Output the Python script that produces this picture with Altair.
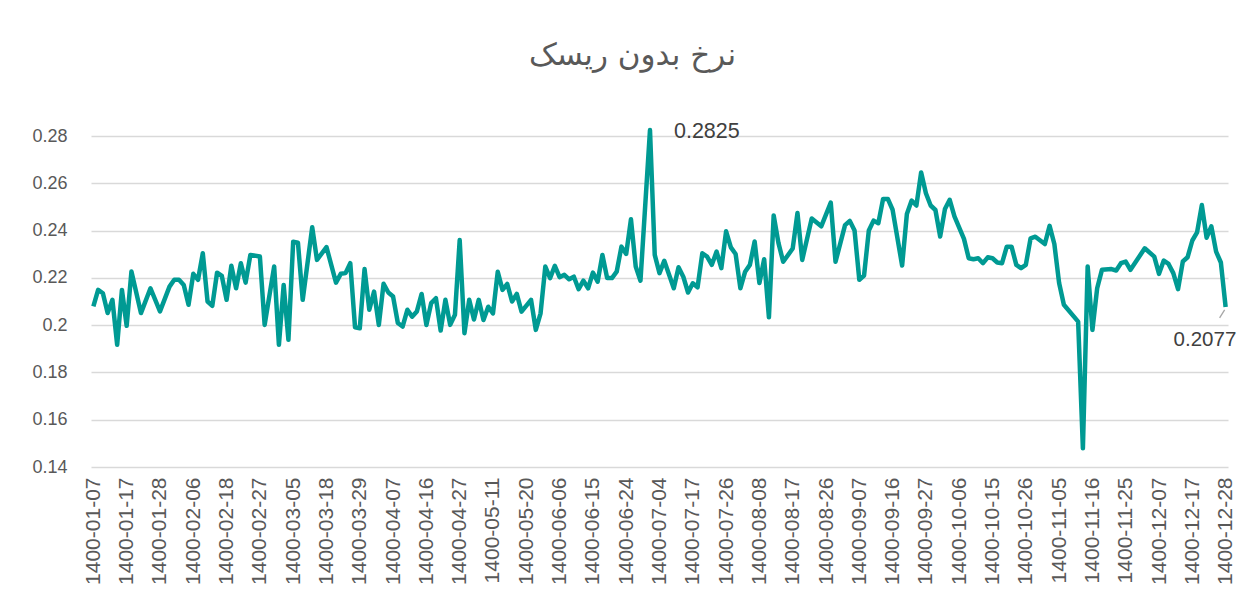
import altair as alt
import pandas as pd

# trading-day position (0 = 1400-01-07 ... 238 = 1400-12-28) and risk-free rate
day_index = [0, 1, 2, 3, 4, 5, 6, 7, 8, 10, 12, 14, 16, 17, 18, 19, 20, 21, 22, 23,
             24, 25, 26, 27, 28, 29, 30, 31, 32, 33, 35, 36, 38, 39, 40, 41, 42, 43, 44, 46,
             47, 49, 51, 52, 53, 54, 55, 56, 57, 58, 59, 60, 61, 62, 63, 64, 65, 66, 67, 68,
             69, 70, 71, 72, 73, 74, 75, 76, 77, 78, 79, 80, 81, 82, 83, 84, 85, 86, 87, 88,
             89, 90, 92, 93, 94, 95, 96, 97, 98, 99, 100, 101, 102, 103, 104, 105, 106, 107, 108, 109,
             110, 111, 112, 113, 114, 115, 117, 118, 119, 120, 122, 123, 124, 125, 126, 127, 128, 129, 130, 131,
             132, 133, 134, 135, 136, 137, 138, 139, 140, 141, 142, 143, 144, 145, 147, 148, 149, 151, 153, 155,
             156, 158, 159, 160, 161, 162, 163, 164, 165, 166, 167, 168, 170, 171, 172, 173, 174, 175, 176, 177,
             178, 179, 180, 181, 183, 184, 185, 186, 187, 188, 189, 190, 191, 192, 193, 194, 195, 196, 197, 198,
             200, 201, 202, 203, 204, 207, 208, 209, 210, 211, 212, 214, 215, 216, 217, 218, 221, 223, 224, 225,
             226, 227, 228, 229, 230, 231, 232, 233, 234, 235, 236, 237, 238]

rate = [0.2079, 0.2149, 0.2135, 0.2051, 0.2107, 0.1917, 0.2149, 0.1997, 0.2227, 0.2051,
        0.2156, 0.2058, 0.2163, 0.2192, 0.2192, 0.2170, 0.2086, 0.2217, 0.2192, 0.2304,
        0.2100, 0.2082, 0.2222, 0.2208, 0.2107, 0.2251, 0.2156, 0.2262, 0.2180, 0.2297,
        0.2290, 0.2001, 0.2248, 0.1917, 0.2170, 0.1938, 0.2353, 0.2349, 0.2107, 0.2414,
        0.2276, 0.2330, 0.2180, 0.2217, 0.2220, 0.2262, 0.1991, 0.1987, 0.2237, 0.2065,
        0.2142, 0.2001, 0.2175, 0.2138, 0.2121, 0.2009, 0.1994, 0.2065, 0.2036, 0.2058,
        0.2132, 0.2001, 0.2093, 0.2114, 0.1977, 0.2107, 0.2001, 0.2044, 0.2360, 0.1966,
        0.2107, 0.2024, 0.2107, 0.2022, 0.2078, 0.2050, 0.2226, 0.2149, 0.2174, 0.2100,
        0.2132, 0.2057, 0.2107, 0.1980, 0.2050, 0.2248, 0.2199, 0.2251, 0.2203, 0.2213,
        0.2194, 0.2205, 0.2152, 0.2188, 0.2156, 0.2222, 0.2184, 0.2297, 0.2199, 0.2199,
        0.2226, 0.2332, 0.2301, 0.2448, 0.2248, 0.2188, 0.2825, 0.2297, 0.2220, 0.2272,
        0.2156, 0.2245, 0.2205, 0.2138, 0.2177, 0.2160, 0.2304, 0.2290, 0.2255, 0.2311,
        0.2241, 0.2397, 0.2329, 0.2301, 0.2156, 0.2226, 0.2255, 0.2354, 0.2178, 0.2279,
        0.2033, 0.2464, 0.2348, 0.2268, 0.2324, 0.2474, 0.2276, 0.2451, 0.2418, 0.2518,
        0.2268, 0.2423, 0.2441, 0.2400, 0.2192, 0.2210, 0.2400, 0.2442, 0.2431, 0.2534,
        0.2534, 0.2488, 0.2252, 0.2470, 0.2527, 0.2506, 0.2646, 0.2558, 0.2506, 0.2487,
        0.2375, 0.2491, 0.2530, 0.2460, 0.2365, 0.2283, 0.2279, 0.2283, 0.2262, 0.2287,
        0.2283, 0.2265, 0.2262, 0.2332, 0.2332, 0.2255, 0.2241, 0.2255, 0.2367, 0.2374,
        0.2343, 0.2420, 0.2343, 0.2178, 0.2086, 0.2015, 0.1479, 0.2248, 0.1980, 0.2156,
        0.2234, 0.2237, 0.2231, 0.2262, 0.2269, 0.2234, 0.2325, 0.2290, 0.2217, 0.2273,
        0.2259, 0.2220, 0.2152, 0.2269, 0.2287, 0.2358, 0.2392, 0.2508, 0.2370, 0.2418,
        0.2311, 0.2265, 0.2077]

tick_labels = ["1400-01-07", "1400-01-17", "1400-01-28", "1400-02-06", "1400-02-18",
               "1400-02-27", "1400-03-05", "1400-03-18", "1400-03-29", "1400-04-07",
               "1400-04-16", "1400-04-27", "1400-05-11", "1400-05-20", "1400-06-06",
               "1400-06-15", "1400-06-24", "1400-07-04", "1400-07-17", "1400-07-26",
               "1400-08-08", "1400-08-17", "1400-08-26", "1400-09-07", "1400-09-16",
               "1400-09-27", "1400-10-06", "1400-10-15", "1400-10-26", "1400-11-05",
               "1400-11-16", "1400-11-25", "1400-12-07", "1400-12-17", "1400-12-28"]
tick_step = 7
y_ticks = [0.14, 0.16, 0.18, 0.20, 0.22, 0.24, 0.26, 0.28]
title_text = "نرخ بدون ریسک"

df = pd.DataFrame({"i": day_index, "rate": rate})
peak_df = df[df["rate"] == df["rate"].max()]
last_df = df[df["i"] == df["i"].max()]

label_array = "[" + ",".join("'" + t + "'" for t in tick_labels) + "]"
tick_values = [k * tick_step for k in range(len(tick_labels))]

FONT = "Liberation Sans"
GREY = "#595959"
LINE = "#009A93"

x_enc = alt.X("i:Q", scale=alt.Scale(domain=[-0.5, day_index[-1] + 0.5], nice=False, zero=False),
              axis=alt.Axis(values=tick_values, labelExpr=label_array + "[round(datum.value/" + str(tick_step) + ")]",
                            labelAngle=270, labelAlign="right", labelBaseline="middle",
                            labelFontSize=21, labelColor=GREY, labelFont=FONT, labelPadding=10,
                            grid=False, ticks=False, domain=False, title=None,
                            labelOverlap=False, labelSeparation=0, labelBound=False))
y_enc = alt.Y("rate:Q", scale=alt.Scale(domain=[0.14, 0.28], nice=False, zero=False),
              axis=alt.Axis(values=y_ticks, format=".2~f", labelFontSize=18, labelColor=GREY,
                            labelFont=FONT, labelPadding=24, ticks=False, domain=False,
                            gridColor="#D9D9D9", gridWidth=1.3, title=None))

line = alt.Chart(df).mark_line(color=LINE, strokeWidth=4.5, clip=False, strokeJoin="round").encode(x=x_enc, y=y_enc)

peak_label = alt.Chart(peak_df).mark_text(align="left", baseline="middle", dx=24, dy=2,
                                          fontSize=21.5, font=FONT, color="#404040").encode(
    x=x_enc, y=y_enc, text=alt.Text("rate:Q", format=".4f"))
last_label = alt.Chart(last_df).mark_text(align="left", baseline="middle", dx=-52, dy=33,
                                          fontSize=20.5, font=FONT, color="#404040").encode(
    x=x_enc, y=y_enc, text=alt.Text("rate:Q", format=".4f"))
leader = alt.Chart(last_df).mark_rule(color="#A6A6A6", strokeWidth=1.3, xOffset=-6, yOffset=11,
                                      x2Offset=-1, y2Offset=3).encode(
    x=x_enc, y=y_enc, x2="i:Q", y2="rate:Q")

chart = alt.layer(line, peak_label, last_label, leader).properties(
    width=1137, height=331,
    title=alt.TitleParams(title_text, font="DejaVu Sans", fontSize=31, fontWeight="normal",
                          color=GREY, anchor="middle", dx=-27, offset=49),
    autosize=alt.AutoSizeParams(type="none"),
    padding={"left": 83, "top": 128, "right": 10, "bottom": 130},
).configure_view(stroke=None)

chart.save("out.html", embed_options={"renderer": "svg", "actions": False})
